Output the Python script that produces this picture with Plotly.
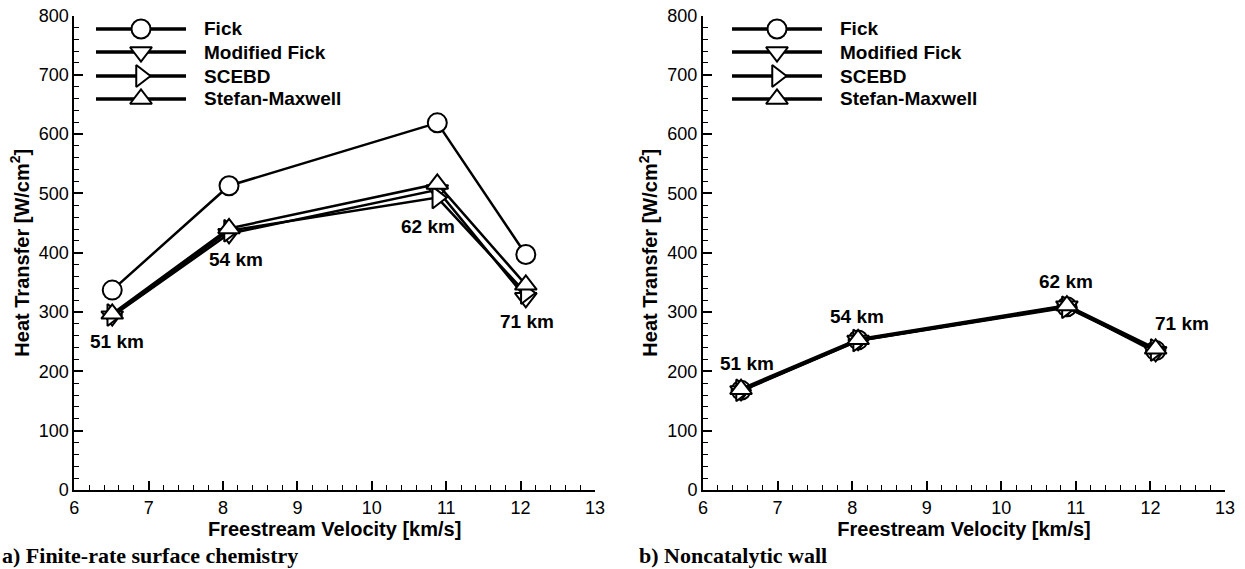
import plotly.graph_objects as go

# Freestream velocity [km/s] and trajectory altitude of each case
velocity = [6.51, 8.08, 10.88, 12.07]
altitude = ["51 km", "54 km", "62 km", "71 km"]

# a) Finite-rate surface chemistry, stagnation heat transfer [W/cm^2]
fr_fick = [337, 513, 619, 397]
fr_mod_fick = [293, 432, 506, 324]
fr_scebd = [295, 437, 493, 332]
fr_stefan = [297, 441, 516, 346]

# b) Noncatalytic wall, stagnation heat transfer [W/cm^2]
nc_fick = [168, 253, 309, 235]
nc_mod_fick = [167, 252, 310, 233]
nc_scebd = [168, 252, 308, 236]
nc_stefan = [170, 254, 311, 238]

# Altitude label positions (velocity, heat transfer) per panel
fr_label_x = [6.57, 8.18, 10.75, 12.08]
fr_label_y = [250, 389, 444, 284]
nc_label_x = [6.59, 8.07, 10.87, 12.42]
nc_label_y = [214, 293, 351, 280]

series_names = ["Fick", "Modified Fick", "SCEBD", "Stefan-Maxwell"]
symbols = ["circle", "triangle-down", "triangle-right", "triangle-up"]

SANS = "Liberation Sans, Arial, sans-serif"
SERIF = "Liberation Serif, Times New Roman, serif"

fig = go.Figure()

def add_panel(ys, xa, ya, line_w):
    for name, sym, y in zip(series_names, symbols, ys):
        fig.add_trace(go.Scatter(
            x=velocity, y=y, name=name, mode="lines+markers",
            xaxis=xa, yaxis=ya, showlegend=False,
            line=dict(color="black", width=line_w),
            marker=dict(symbol=sym, size=19, color="white",
                        line=dict(color="black", width=2)),
        ))

add_panel([fr_fick, fr_mod_fick, fr_scebd, fr_stefan], "x", "y", 2.5)
add_panel([nc_fick, nc_mod_fick, nc_scebd, nc_stefan], "x2", "y2", 3)

W, H = 1245, 569

# Legend samples drawn on a pixel-space overlay axis spanning the page
leg_rows = [29, 52, 76, 99]
for x0, x1, xt in [(96, 186, 202), (732, 822, 838)]:
    for name, sym, yy in zip(series_names, symbols, leg_rows):
        fig.add_trace(go.Scatter(
            x=[x0, x1], y=[yy, yy], mode="lines",
            xaxis="x3", yaxis="y3", showlegend=False, hoverinfo="skip",
            line=dict(color="black", width=3.5),
        ))
        fig.add_trace(go.Scatter(
            x=[(x0 + x1) / 2], y=[yy], mode="markers",
            xaxis="x3", yaxis="y3", showlegend=False, hoverinfo="skip",
            marker=dict(symbol=sym, size=19, color="white",
                        line=dict(color="black", width=2)),
        ))
        fig.add_annotation(x=xt / W, y=1 - yy / H, xref="paper", yref="paper", text=name,
                           showarrow=False, xanchor="left", yanchor="middle",
                           font=dict(family=SANS, size=19, color="black",
                                     weight="bold"))

for lx, ly, t in zip(fr_label_x, fr_label_y, altitude):
    fig.add_annotation(x=lx, y=ly, xref="x", yref="y", text=t, showarrow=False,
                       font=dict(family=SANS, size=19, color="black", weight="bold"))
for lx, ly, t in zip(nc_label_x, nc_label_y, altitude):
    fig.add_annotation(x=lx, y=ly, xref="x2", yref="y2", text=t, showarrow=False,
                       font=dict(family=SANS, size=19, color="black", weight="bold"))

# Panel captions
fig.add_annotation(x=0, y=1 - 555 / H, xref="paper", yref="paper",
                   text="<b>a) Finite-rate surface chemistry</b>",
                   showarrow=False, xanchor="left", yanchor="middle",
                   font=dict(family=SERIF, size=22, color="black"))
fig.add_annotation(x=637 / W, y=1 - 555 / H, xref="paper", yref="paper",
                   text="<b>b) Noncatalytic wall</b>",
                   showarrow=False, xanchor="left", yanchor="middle",
                   font=dict(family=SERIF, size=22, color="black"))

ydom = [1 - 490 / H, 1 - 15.5 / H]

xcommon = dict(range=[6, 13], dtick=1, tick0=6, showgrid=False, zeroline=False,
               showline=True, linecolor="black", linewidth=2, automargin=False,
               ticks="inside", ticklen=9, tickwidth=2, tickcolor="black",
               minor=dict(ticks="inside", ticklen=5, tickwidth=1, tickcolor="black", dtick=0.2),
               tickfont=dict(family=SANS, size=18, color="black"),
               title=dict(text="<b>Freestream Velocity [km/s]</b>", standoff=2,
                          font=dict(family=SANS, size=20, color="black")))
ycommon = dict(range=[0, 800], dtick=100, showgrid=False, zeroline=False,
               showline=True, linecolor="black", linewidth=2, automargin=False,
               ticks="inside", ticklen=9, tickwidth=2, tickcolor="black",
               minor=dict(ticks="inside", ticklen=5, tickwidth=1, tickcolor="black", dtick=20),
               tickfont=dict(family=SANS, size=18, color="black"),
               title=dict(text="<b>Heat Transfer [W/cm<sup>2</sup>]</b>", standoff=4,
                          font=dict(family=SANS, size=20, color="black")))

fig.update_layout(
    width=W, height=H,
    margin=dict(l=0, r=0, t=0, b=0, pad=0, autoexpand=False),
    paper_bgcolor="white", plot_bgcolor="rgba(0,0,0,0)",
    xaxis=dict(xcommon, domain=[74.3 / W, 595 / W], anchor="y"),
    yaxis=dict(ycommon, domain=ydom, anchor="x"),
    xaxis2=dict(xcommon, domain=[703 / W, 1225 / W], anchor="y2"),
    yaxis2=dict(ycommon, domain=ydom, anchor="x2"),
    xaxis3=dict(domain=[0, 1], range=[0, W], visible=False, anchor="y3", automargin=False),
    yaxis3=dict(domain=[0, 1], range=[H, 0], visible=False, anchor="x3", automargin=False),
    showlegend=False,
)

fig.write_html("out.html")
